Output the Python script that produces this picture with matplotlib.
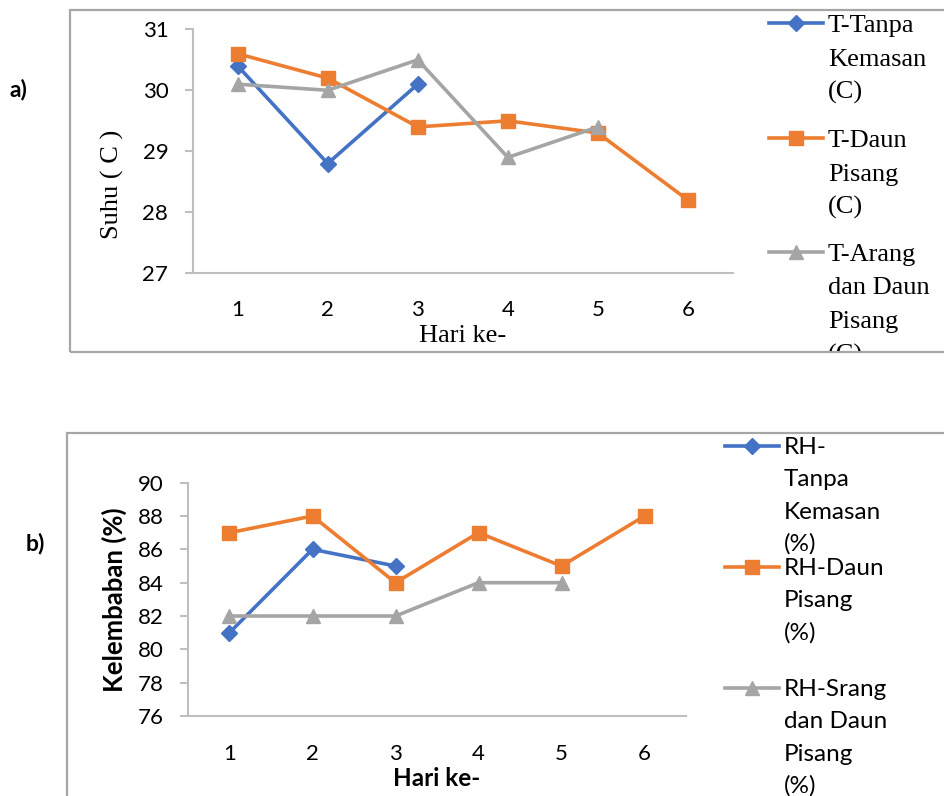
import matplotlib
matplotlib.use("Agg")
import matplotlib.pyplot as plt
from matplotlib.lines import Line2D
from matplotlib.patches import Rectangle

# Data
hari = [1, 2, 3, 4, 5, 6]

t_tanpa = [30.4, 28.8, 30.1]
t_daun = [30.6, 30.2, 29.4, 29.5, 29.3, 28.2]
t_arang = [30.1, 30.0, 30.5, 28.9, 29.4]

rh_tanpa = [81, 86, 85]
rh_daun = [87, 88, 84, 87, 85, 88]
rh_srang = [82, 82, 82, 84, 84]

label_a = ["T-Tanpa\nKemasan\n(C)", "T-Daun\nPisang\n(C)", "T-Arang\ndan Daun\nPisang\n(C)"]
label_b = ["RH-\nTanpa\nKemasan\n(%)", "RH-Daun\nPisang\n(%)", "RH-Srang\ndan Daun\nPisang\n(%)"]

warna = ["#4472C4", "#ED7D31", "#A5A5A5"]
penanda = ["D", "s", "^"]
ukuran = [8, 9.5, 10]

W, H = 945, 796
fig = plt.figure(figsize=(W / 100, H / 100), dpi=100)


def fx(px):
    return px / W


def fy(py):
    return 1 - py / H


serif = ["Liberation Serif", "DejaVu Serif"]
sans = ["Lato", "DejaVu Sans"]
spine_c = "#BFBFBF"
frame_c = "#A6A6A6"

# bingkai luar
fig.patches.append(Rectangle((fx(70), fy(352)), fx(945 + 20) - fx(70), fy(10) - fy(352),
                             transform=fig.transFigure, fill=False, ec=frame_c, lw=1.6))
fig.patches.append(Rectangle((fx(67), fy(796 + 20)), fx(945 + 20) - fx(67), fy(433) - fy(816),
                             transform=fig.transFigure, fill=False, ec=frame_c, lw=1.6))


def style_axes(ax, ymin, ymax, ystep, xpad, ypad):
    ax.set_xlim(0.5, 6.5)
    ax.set_ylim(ymin, ymax)
    ax.set_xticks(hari)
    ax.set_yticks(range(ymin, ymax + 1, ystep))
    for s in ["top", "right"]:
        ax.spines[s].set_visible(False)
    for s in ["left", "bottom"]:
        ax.spines[s].set_color(spine_c)
        ax.spines[s].set_linewidth(1.5)
    ax.tick_params(axis="x", length=0, pad=xpad)
    ax.tick_params(axis="y", length=5.5, width=1.5, color=spine_c, pad=ypad)
    for t in ax.get_xticklabels() + ax.get_yticklabels():
        t.set_family(sans)
        t.set_fontsize(16)
    ax.patch.set_alpha(0)


# a) Suhu
ax1 = fig.add_axes([fx(192.6), fy(273.3), (733 - 192.6) / W, (273.3 - 29.3) / H])
for data, c, m, ms in zip([t_tanpa, t_daun, t_arang], warna, penanda, ukuran):
    ax1.plot(hari[:len(data)], data, color=c, marker=m, markersize=ms, lw=2.6,
             clip_on=False)
style_axes(ax1, 27, 31, 1, 19, 12)
ax1.set_xlabel("Hari ke-", family=serif, fontsize=19, va="center")
ax1.xaxis.set_label_coords(0.5, -0.258)
ax1.set_ylabel("Suhu ( C )", family=serif, fontsize=19, va="center")
ax1.yaxis.set_label_coords(-0.148, 0.366)

# b) Kelembaban
ax2 = fig.add_axes([fx(188), fy(716), (686 - 188) / W, (716 - 482.7) / H])
for data, c, m, ms in zip([rh_tanpa, rh_daun, rh_srang], warna, penanda, ukuran):
    ax2.plot(hari[:len(data)], data, color=c, marker=m, markersize=ms, lw=2.6,
             clip_on=False)
style_axes(ax2, 76, 90, 2, 20, 12)
ax2.set_xlabel("Hari ke-", family=sans, fontsize=17.5, fontweight="bold", va="center")
ax2.xaxis.set_label_coords(0.5, -0.266)
ax2.set_ylabel("Kelembaban (%)", family=sans, fontsize=18.5, fontweight="bold", va="center")
ax2.yaxis.set_label_coords(-0.148, 0.497)

fig.text(fx(10), fy(90), "a)", family=sans, fontsize=16.5, fontweight="bold", va="center")
fig.text(fx(26), fy(544), "b)", family=sans, fontsize=16.5, fontweight="bold", va="center")


# legenda
def legenda(labels, x0, x1, tx, rows, step, fam, fs, cap, clip):
    for lab, y, c, m, ms in zip(labels, rows, warna, penanda, ukuran):
        fig.lines.append(Line2D([fx(x0), fx((x0 + x1) / 2), fx(x1)], [fy(y)] * 3,
                                transform=fig.transFigure, color=c, lw=2.6,
                                marker=m, markersize=ms, markevery=[1]))
        for i, baris in enumerate(lab.split("\n")):
            t = fig.text(fx(tx), fy(y + i * step + cap / 2), baris, family=fam,
                         fontsize=fs, va="baseline", ha="left")
            t.set_clip_path(clip)


clip_a = Rectangle((0, fy(351)), 1, fy(10) - fy(351), transform=fig.transFigure)
clip_b = Rectangle((0, 0), 1, fy(433), transform=fig.transFigure)
legenda(label_a, 769, 823, 828, [23, 138, 252], 33.5, serif, 19, 18, clip_a)
legenda(label_b, 725, 779, 784, [446, 567, 688], 32.3, sans, 17.5, 16, clip_b)

fig.savefig("out.png", dpi=100)
